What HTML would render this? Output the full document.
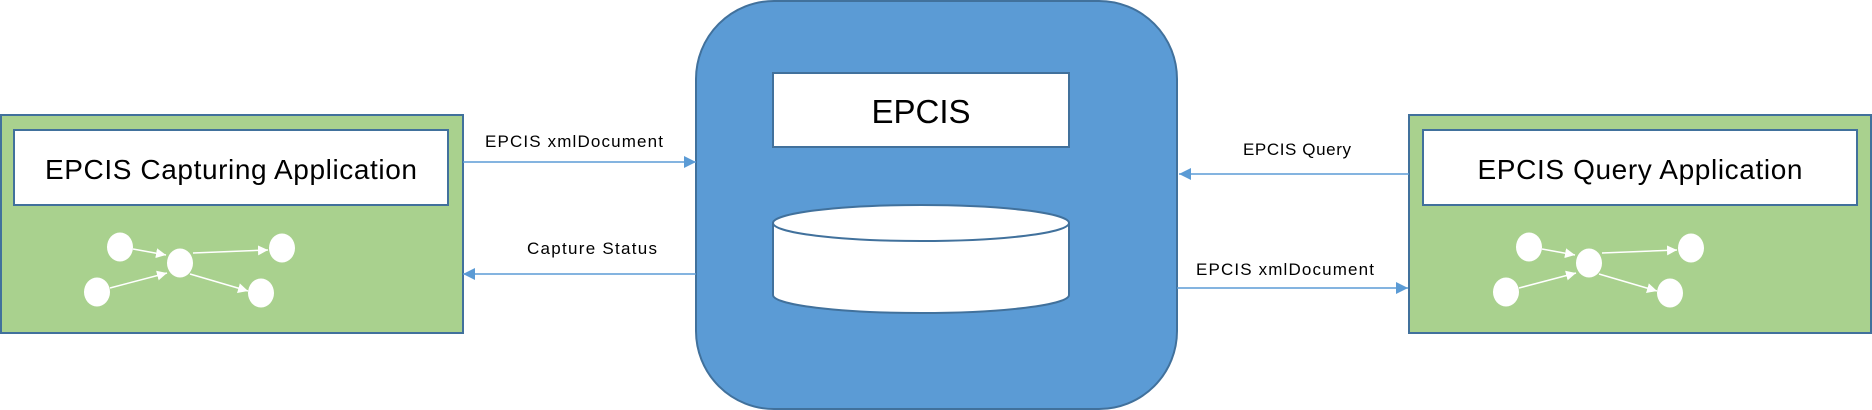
<!DOCTYPE html>
<html><head><meta charset="utf-8"><style>html,body{margin:0;padding:0;background:#fff}svg{display:block}</style></head>
<body>
<svg width="1872" height="410" viewBox="0 0 1872 410" xmlns="http://www.w3.org/2000/svg" font-family="Liberation Sans, sans-serif">
<defs>
<marker id="ah" viewBox="0 0 10 10" refX="10" refY="5" markerWidth="12" markerHeight="12" markerUnits="userSpaceOnUse" orient="auto"><path d="M0,0 L10,5 L0,10 z" fill="#5b9bd5"/></marker>
<marker id="wh" viewBox="0 0 10 10" refX="10" refY="5" markerWidth="10" markerHeight="10" markerUnits="userSpaceOnUse" orient="auto"><path d="M0,0 L10,5 L0,10 z" fill="#fff"/></marker>
<g id="nodes">
<line x1="133" y1="249" x2="166" y2="255" stroke="#fff" stroke-width="1.5" marker-end="url(#wh)"/>
<line x1="110" y1="288" x2="167" y2="273" stroke="#fff" stroke-width="1.5" marker-end="url(#wh)"/>
<line x1="193" y1="253" x2="268" y2="250" stroke="#fff" stroke-width="1.5" marker-end="url(#wh)"/>
<line x1="190" y1="274" x2="248" y2="291" stroke="#fff" stroke-width="1.5" marker-end="url(#wh)"/>
<ellipse cx="120" cy="247" rx="13" ry="14.5" fill="#fff"/>
<ellipse cx="180" cy="263" rx="13" ry="14.5" fill="#fff"/>
<ellipse cx="282" cy="248" rx="13" ry="14.5" fill="#fff"/>
<ellipse cx="97" cy="292" rx="13" ry="14.5" fill="#fff"/>
<ellipse cx="261" cy="293" rx="13" ry="14.5" fill="#fff"/>
</g>
</defs>
<!-- left -->
<rect x="1" y="115" width="462" height="218" fill="#a9d18e" stroke="#41719c" stroke-width="2"/>
<rect x="14" y="130" width="434" height="75" fill="#fff" stroke="#41719c" stroke-width="2"/>
<text x="231" y="179" font-size="28" text-anchor="middle" textLength="372">EPCIS Capturing Application</text>
<use href="#nodes"/>
<!-- right -->
<rect x="1409" y="115" width="462" height="218" fill="#a9d18e" stroke="#41719c" stroke-width="2"/>
<rect x="1423" y="130" width="434" height="75" fill="#fff" stroke="#41719c" stroke-width="2"/>
<text x="1640" y="179" font-size="28" text-anchor="middle" textLength="325">EPCIS Query Application</text>
<use href="#nodes" transform="translate(1409,0)"/>
<!-- center -->
<rect x="696" y="1" width="481" height="408" rx="78" ry="78" fill="#5b9bd5" stroke="#41719c" stroke-width="2"/>
<rect x="773" y="73" width="296" height="74" fill="#fff" stroke="#41719c" stroke-width="2"/>
<text x="921" y="123" font-size="33" text-anchor="middle">EPCIS</text>
<path d="M773,223 L773,295 A148,18 0 0 0 1069,295 L1069,223" fill="#fff" stroke="#41719c" stroke-width="2"/>
<ellipse cx="921" cy="223" rx="148" ry="18" fill="#fff" stroke="#41719c" stroke-width="2"/>
<!-- arrows -->
<line x1="463" y1="162" x2="696" y2="162" stroke="#5b9bd5" stroke-width="1.5" marker-end="url(#ah)"/>
<line x1="696" y1="274" x2="463" y2="274" stroke="#5b9bd5" stroke-width="1.5" marker-end="url(#ah)"/>
<line x1="1409" y1="174" x2="1179" y2="174" stroke="#5b9bd5" stroke-width="1.5" marker-end="url(#ah)"/>
<line x1="1177" y1="288" x2="1408" y2="288" stroke="#5b9bd5" stroke-width="1.5" marker-end="url(#ah)"/>
<text x="485" y="147" font-size="17" textLength="178">EPCIS xmlDocument</text>
<text x="527" y="254" font-size="17" textLength="130">Capture Status</text>
<text x="1243" y="155" font-size="17" textLength="108">EPCIS Query</text>
<text x="1196" y="275" font-size="17" textLength="178">EPCIS xmlDocument</text>
</svg>
</body></html>
